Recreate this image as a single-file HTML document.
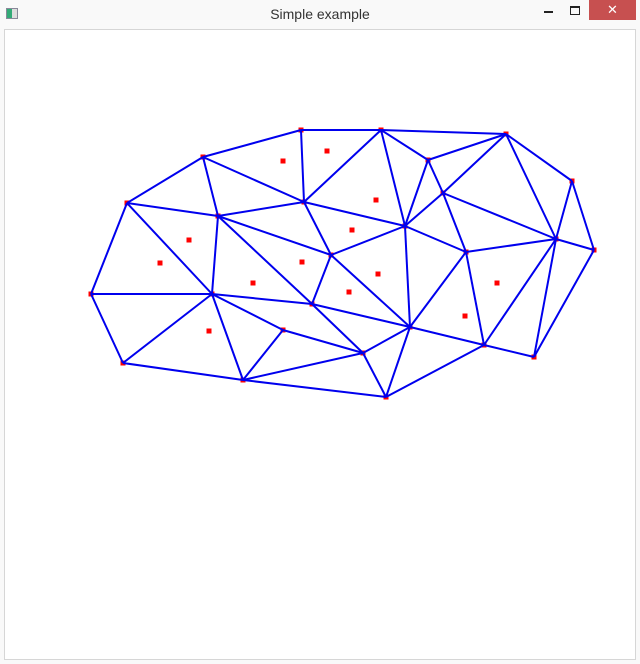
<!DOCTYPE html>
<html><head><meta charset="utf-8"><style>
body{margin:0;width:640px;height:664px;background:#f9f9f9;overflow:hidden;font-family:"Liberation Sans",sans-serif}
#title{position:absolute;left:0;top:0;width:640px;height:29px}
#title span{position:absolute;left:0;width:640px;top:6px;text-align:center;font-size:14px;color:#333}
#close{position:absolute;left:589px;top:0;width:47px;height:20px;background:#c75050;color:#fff;text-align:center;font-size:13px;line-height:20px}
#frame{position:absolute;left:4px;top:29px;width:630px;height:629px;border:1px solid #d6d6d6;background:#fff}
</style></head><body>
<div id="title">
<div style="position:absolute;left:6px;top:8px;width:10px;height:9px;border:1px solid #889;background:linear-gradient(90deg,#3a7 50%,#ddd 50%)"></div>
<span>Simple example</span>
<div style="position:absolute;left:544px;top:11px;width:9px;height:2px;background:#222"></div>
<div style="position:absolute;left:570px;top:6px;width:8px;height:6px;border:1px solid #222;border-top-width:2px"></div>
<div id="close">✕</div>
</div>
<div id="frame">
<svg id="svg" width="630" height="629" viewBox="5 30 630 629"></svg>
</div>
<script>
const vertexNames=["A","B","C","D","E","F","G","H","I","J","K","L","M","N","O","P","Q","R","S","T","U","V","W","X","Y","Z"];
const vertexX=[91,127,203,301,381,506,572,594,534,484,386,243,123,218,304,212,331,312,283,363,410,405,428,443,466,556];
const vertexY=[294,203,157,130,130,134,181,250,357,345,397,380,363,216,202,294,255,304,330,353,327,226,160,193,252,239];
const edges=["AB","BC","CD","DE","EF","FG","GH","HI","IJ","JK","KL","LM","MA","BN","BP","AP","MP","CN","CO","DO","EO","NO","NP","NQ","OQ","OV","EV","EW","WV","WF","FX","XV","FZ","GZ","HZ","IZ","XZ","WX","XY","VY","YZ","YJ","ZJ","VQ","VU","QR","QU","PR","PS","PL","NR","RT","RU","ST","SL","LT","TU","TK","UK","UJ","UY"];
const centerX=[283,327,376,352,189,160,302,378,253,349,497,465,209];
const centerY=[161,151,200,230,240,263,262,274,283,292,283,316,331];
const svg=document.getElementById('svg');const NS='http://www.w3.org/2000/svg';
function idx(c){return vertexNames.indexOf(c);}
function sq(x,y,n){const r=document.createElementNS(NS,'rect');r.setAttribute('x',x-2.5);r.setAttribute('y',y-2.5);r.setAttribute('width',5);r.setAttribute('height',5);r.setAttribute('fill','#f00');


svg.appendChild(r);}
for(let i=0;i<vertexX.length;i++)sq(vertexX[i],vertexY[i],'vertex-point');
for(let i=0;i<centerX.length;i++)sq(centerX[i],centerY[i],'center-point');
edges.forEach(e=>{const a=idx(e[0]),b=idx(e[1]);const l=document.createElementNS(NS,'line');
l.setAttribute('x1',vertexX[a]);l.setAttribute('y1',vertexY[a]);l.setAttribute('x2',vertexX[b]);l.setAttribute('y2',vertexY[b]);
l.setAttribute('stroke','#0000ee');l.setAttribute('stroke-width','2');


svg.appendChild(l);});
</script>
</body></html>
